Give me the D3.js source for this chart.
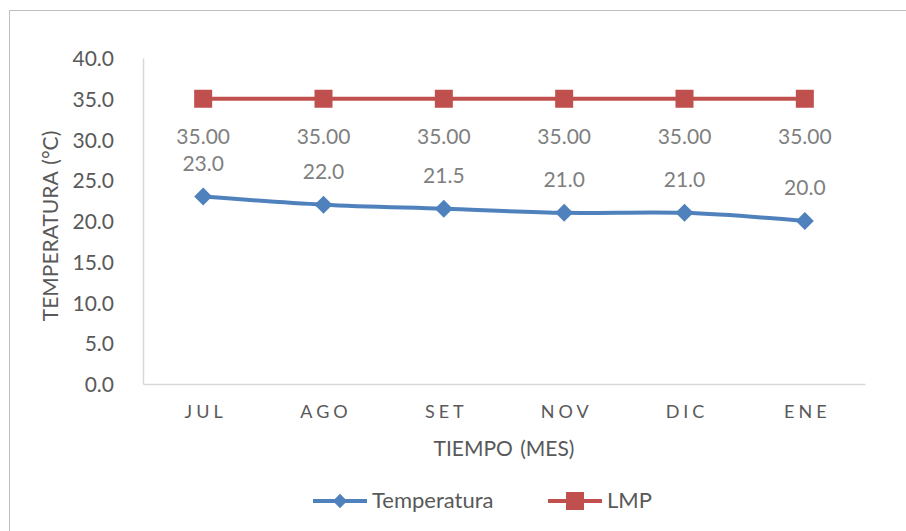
<!DOCTYPE html>
<html><head><meta charset="utf-8">
<script src="https://cdn.jsdelivr.net/npm/d3@7"></script>
<style>body{margin:0;background:#fff}svg{display:block}text{font-family:Lato,"Open Sans",sans-serif}</style>
</head><body><svg id="c" width="906" height="531"></svg>
<script>
const categories = ["JUL","AGO","SET","NOV","DIC","ENE"];
const temperatura = [23.0,22.0,21.5,21.0,21.0,20.0];
const lmp = [35,35,35,35,35,35];
const yTicks = [0,5,10,15,20,25,30,35,40];

(function(){
const svg = d3.select("#c");
const W=906,H=531;
const pL=143,pR=865,pT=58,pB=384;
const x = d3.scalePoint().domain(categories).range([pL,pR]).padding(0.5);
const y = d3.scaleLinear().domain([0,40]).range([pB,pT]);
const blue="#4f81bd", red="#c0504d", txt="#595959", lab="#7f7f7f";

svg.append("rect").attr("x",9.5).attr("y",10.5).attr("width",W+20).attr("height",H+20).attr("fill","none").attr("stroke","#bfbfbf").attr("stroke-width",1);

const ya = svg.append("g").attr("transform",`translate(${pL},0)`).call(d3.axisLeft(y).tickValues(yTicks).tickSize(0).tickPadding(29).tickFormat(d3.format(".1f")));
ya.select(".domain").attr("stroke","#d9d9d9").attr("stroke-width",1.5);
ya.selectAll("text").attr("fill",txt).style("font-size","21px").attr("dy","0.36em");
const xa = svg.append("g").attr("transform",`translate(0,${pB})`).call(d3.axisBottom(x).tickSize(0).tickPadding(21));
xa.select(".domain").attr("stroke","#d9d9d9").attr("stroke-width",1.5);
xa.selectAll("text").attr("fill",txt).style("font-size","18px").style("letter-spacing","4px").attr("dx","2px");

svg.append("text").attr("x",504).attr("y",456).attr("text-anchor","middle").attr("fill",txt).style("font-size","21px").style("word-spacing","2px").text("TIEMPO  (MES)");
svg.append("text").attr("transform",`translate(58,226) rotate(-90)`).attr("text-anchor","middle").attr("fill",txt).style("font-size","21px").style("word-spacing","2px").text("TEMPERATURA  (°C)");

svg.append("path").datum(lmp).attr("fill","none").attr("stroke",red).attr("stroke-width",4)
  .attr("d",d3.line().x((d,i)=>x(categories[i])).y(d=>y(d)));
svg.selectAll(".sq").data(lmp).enter().append("rect").attr("x",(d,i)=>x(categories[i])-9).attr("y",d=>y(d)-9).attr("width",18).attr("height",18).attr("fill",red);
svg.selectAll(".lmpl").data(lmp).enter().append("text").attr("x",(d,i)=>x(categories[i])).attr("y",d=>y(d)+45).attr("text-anchor","middle").attr("fill",lab).style("font-size","21px").text(d=>d3.format(".2f")(d));

svg.append("path").datum(temperatura).attr("fill","none").attr("stroke",blue).attr("stroke-width",4)
  .attr("d",d3.line().x((d,i)=>x(categories[i])).y(d=>y(d)).curve(d3.curveCatmullRom.alpha(0.5)));
const dia = d3.symbol().type(d3.symbolDiamond2).size(206);
svg.selectAll(".dm").data(temperatura).enter().append("path").attr("d",dia).attr("transform",(d,i)=>`translate(${x(categories[i])},${y(d)})`).attr("fill",blue);
svg.selectAll(".tl").data(temperatura).enter().append("text").attr("x",(d,i)=>x(categories[i])).attr("y",d=>y(d)-26).attr("text-anchor","middle").attr("fill",lab).style("font-size","21px").text(d=>d3.format(".1f")(d));

const lg = svg.append("g");
const diaL = d3.symbol().type(d3.symbolDiamond2).size(130);
lg.append("line").attr("x1",313).attr("x2",367).attr("y1",501).attr("y2",501).attr("stroke",blue).attr("stroke-width",4);
lg.append("path").attr("d",diaL).attr("transform","translate(340,501)").attr("fill",blue);
lg.append("text").attr("x",372).attr("y",508).attr("fill",txt).style("font-size","22px").text("Temperatura");
lg.append("line").attr("x1",548).attr("x2",602).attr("y1",501).attr("y2",501).attr("stroke",red).attr("stroke-width",4);
lg.append("rect").attr("x",566).attr("y",492).attr("width",18).attr("height",18).attr("fill",red);
lg.append("text").attr("x",607).attr("y",508).attr("fill",txt).style("font-size","22px").text("LMP");
})();
</script></body></html>
